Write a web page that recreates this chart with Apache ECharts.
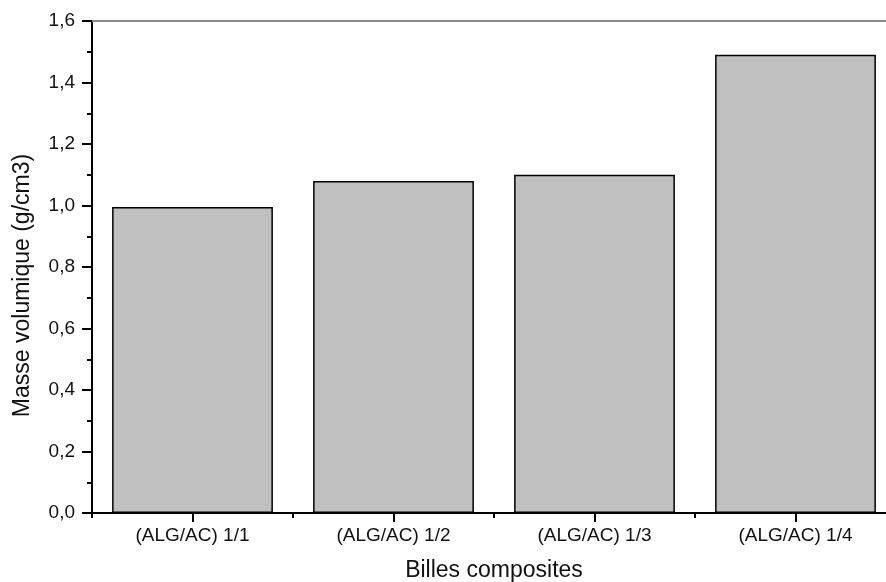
<!DOCTYPE html>
<html>
<head>
<meta charset="utf-8">
<style>
  html, body { margin: 0; padding: 0; background: #fff; }
  #chart { width: 886px; height: 582px; }
</style>
<script src="https://cdn.jsdelivr.net/npm/echarts@6/dist/echarts.min.js"></script>
</head>
<body>
<div id="chart"></div>
<script>
// Bulk density of the composite beads
const categories = ['(ALG/AC) 1/1', '(ALG/AC) 1/2', '(ALG/AC) 1/3', '(ALG/AC) 1/4'];
const densities = [0.995, 1.08, 1.10, 1.49];
const yMin = 0;
const yMax = 1.6;
const yStep = 0.2;
const xTitle = 'Billes composites';
const yTitle = 'Masse volumique (g/cm3)';

const FONT = '"Liberation Sans", Arial, sans-serif';
const chart = echarts.init(document.getElementById('chart'), null, { renderer: 'canvas' });

chart.setOption({
  animation: false,
  backgroundColor: '#ffffff',
  // the plot frame runs a little past the right edge of the page
  grid: {
    left: 92, top: 21, height: 492, width: 804,
    containLabel: false,
    outerBoundsMode: 'none'
  },
  xAxis: [
    {
      type: 'category',
      data: categories,
      position: 'bottom',
      name: xTitle,
      nameLocation: 'middle',
      nameGap: 46,
      nameTextStyle: { fontFamily: FONT, fontSize: 23, color: '#111' },
      axisLine: { show: true, lineStyle: { color: '#000', width: 2 } },
      axisTick: { show: true, alignWithLabel: true, length: 9, lineStyle: { color: '#000', width: 2 } },
      axisLabel: { fontFamily: FONT, fontSize: 19, color: '#111', margin: 13 },
      splitLine: { show: false }
    },
    {
      // short ticks on the category boundaries
      type: 'category',
      data: categories,
      position: 'bottom',
      axisLine: { show: false },
      axisTick: { show: true, length: 5, lineStyle: { color: '#000', width: 2 } },
      axisLabel: { show: false },
      splitLine: { show: false }
    },
    {
      // frame line along the top
      type: 'category',
      data: categories,
      position: 'top',
      axisLine: { show: true, lineStyle: { color: '#8a8a8a', width: 2 } },
      axisTick: { show: false },
      axisLabel: { show: false },
      splitLine: { show: false }
    }
  ],
  yAxis: {
    type: 'value',
    min: yMin,
    max: yMax,
    interval: yStep,
    name: yTitle,
    nameLocation: 'middle',
    nameGap: 58,
    nameTextStyle: { fontFamily: FONT, fontSize: 23, color: '#111', padding: [0, 37, 0, 0] },
    axisLine: { show: true, lineStyle: { color: '#000', width: 2 } },
    axisTick: { show: true, length: 10, lineStyle: { color: '#000', width: 2 } },
    minorTick: { show: true, splitNumber: 2, length: 5, lineStyle: { color: '#000', width: 2 } },
    axisLabel: {
      fontFamily: FONT, fontSize: 19, color: '#111', margin: 17,
      formatter: v => v.toFixed(1).replace('.', ',')
    },
    splitLine: { show: false },
    minorSplitLine: { show: false }
  },
  series: [{
    type: 'bar',
    xAxisIndex: 0,
    data: densities,
    barCategoryGap: '20%',
    itemStyle: { color: '#c0c0c0', borderColor: '#000', borderWidth: 1.5 },
    emphasis: { disabled: true }
  }]
});
</script>
</body>
</html>
